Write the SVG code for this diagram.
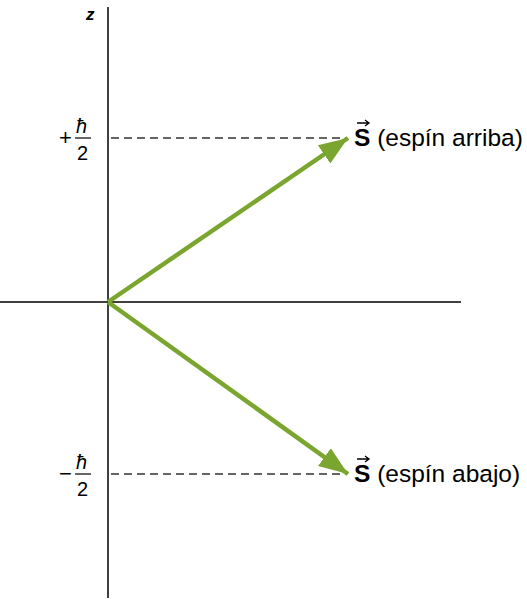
<svg xmlns="http://www.w3.org/2000/svg" width="527" height="599" viewBox="0 0 527 599">
<style>
.ax{stroke:#000;stroke-width:1.5;fill:none}
.dash{stroke:#333;stroke-width:1.5;stroke-dasharray:8,5;fill:none}
.vec{stroke:#7aa62f;stroke-width:4.5;fill:none}
text{font-family:"Liberation Sans",Arial,sans-serif;fill:#000}
.lbl{font-size:24.5px}
.sign{font-size:22px}
.frac{font-size:20px}
.vbar{stroke:#000;stroke-width:1.3;fill:none}
</style>
<defs>
<marker id="ah" markerUnits="userSpaceOnUse" markerWidth="32" markerHeight="26" refX="29" refY="13" orient="auto">
<path d="M0,2 L29,13 L0,24 Z" fill="#7aa62f"/>
</marker>
</defs>
<g id="axes">
<line class="ax" x1="108" y1="7" x2="108" y2="598"/>
<line class="ax" x1="0" y1="302" x2="461" y2="302"/>
<text x="86" y="20" font-size="17" font-style="italic" font-weight="bold">z</text>
</g>
<g id="ticks">
<text x="59" y="145" class="sign">+</text>
<text x="76" y="133" class="frac" font-style="italic">ħ</text>
<line x1="75" y1="138" x2="91" y2="138" stroke="#000" stroke-width="1.2"/>
<text x="77" y="160" class="frac">2</text>
<text x="59" y="481" class="sign">−</text>
<text x="76" y="469" class="frac" font-style="italic">ħ</text>
<line x1="75" y1="474" x2="91" y2="474" stroke="#000" stroke-width="1.2"/>
<text x="77" y="496" class="frac">2</text>
</g>
<g id="connectors">
<line class="dash" x1="111" y1="138" x2="346" y2="138"/>
<line class="dash" x1="111" y1="474" x2="346" y2="474"/>
<line class="vec" x1="108" y1="302" x2="348" y2="138" marker-end="url(#ah)"/>
<line class="vec" x1="108" y1="302" x2="348" y2="474" marker-end="url(#ah)"/>
</g>
<g id="label-up">
<text x="354" y="146" class="lbl"><tspan font-weight="bold">S</tspan> (espín arriba)</text>
<path class="vbar" d="M357,123 H369 M365,120 L369,123 L365,126"/>
</g>
<g id="label-down">
<text x="354" y="482" class="lbl"><tspan font-weight="bold">S</tspan> (espín abajo)</text>
<path class="vbar" d="M357,459 H369 M365,456 L369,459 L365,462"/>
</g>
</svg>
